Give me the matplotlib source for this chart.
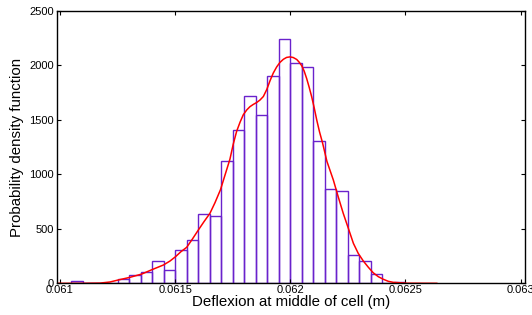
import numpy as np
import matplotlib.pyplot as plt

plt.rcParams['font.family'] = ['Liberation Sans', 'DejaVu Sans']

# histogram: bin width 5e-5, first bin starts at 0.06105
bin_width = 0.00005
first_edge = 0.06105
counts = [18, 0, 0, 0, 40, 80, 102, 202, 119, 302, 400, 640, 620, 1122,
          1405, 1721, 1544, 1905, 2244, 2024, 1984, 1304, 862, 847,
          260, 202, 83, 0, 12]

# smoothed density (red curve)
curve_x = [0.060987, 0.061087, 0.061174, 0.061217, 0.061252, 0.061304,
           0.061355, 0.061399, 0.061449, 0.061478, 0.061502, 0.061525,
           0.061550, 0.061573, 0.061601, 0.061625, 0.061651, 0.061673,
           0.061697, 0.061716, 0.061738, 0.061752, 0.061767, 0.061782,
           0.061796, 0.061811, 0.061825, 0.061839, 0.061854, 0.061868,
           0.061883, 0.061898, 0.061912, 0.061926, 0.061941, 0.061955,
           0.061970, 0.061984, 0.061999, 0.062013, 0.062028, 0.062038,
           0.062049, 0.062060, 0.062071, 0.062082, 0.062093, 0.062104,
           0.062115, 0.062127, 0.062140, 0.062159, 0.062187, 0.062208,
           0.062230, 0.062252, 0.062274, 0.062295, 0.062317, 0.062339,
           0.062360, 0.062382, 0.062404, 0.062426, 0.062447, 0.062505,
           0.062636]
curve_y = [0, 0, 2, 12, 30, 55,
           85, 125, 168, 205, 245, 290,
           330, 400, 490, 565, 642, 740,
           860, 990, 1140, 1275, 1395, 1480,
           1548, 1592, 1622, 1642, 1660, 1682,
           1715, 1780, 1860, 1930, 1987, 2028,
           2057, 2074, 2079, 2073, 2055, 2032,
           2000, 1950, 1881, 1800, 1712, 1610,
           1498, 1390, 1290, 1120, 948, 795,
           642, 505, 367, 275, 205, 147,
           97, 61, 37, 18, 9, 1,
           0]

xticks = [0.061, 0.0615, 0.062, 0.0625, 0.063]
xticklabels = ['0.061', '0.0615', '0.062', '0.0625', '0.063']
yticks = [0, 500, 1000, 1500, 2000, 2500]

fig = plt.figure(figsize=(5.32, 3.15), dpi=100)
ax = fig.add_axes([0.1071, 0.1006, 0.8797, 0.8644])

lefts = first_edge + bin_width * np.arange(len(counts))
ax.bar(lefts, counts, width=bin_width, align='edge', fill=False,
       edgecolor='#6a22cc', linewidth=1.0)
ax.plot(curve_x, curve_y, color='red', linewidth=1.1)

ax.set_xlim(0.060987, 0.063019)
ax.set_ylim(0, 2500)
ax.set_xticks(xticks)
ax.set_xticklabels(xticklabels)
ax.set_yticks(yticks)
ax.tick_params(direction='in', top=True, right=True, length=3,
               labelsize=8, pad=2)
ax.tick_params(axis='x', pad=1.5)
for s in ax.spines.values():
    s.set_linewidth(1.0)

ax.set_xlabel('Deflexion at middle of cell (m)', fontsize=10.8, labelpad=0)
ax.set_ylabel('Probability density function', fontsize=10.8, labelpad=4)

fig.savefig('out.png', dpi=100)
